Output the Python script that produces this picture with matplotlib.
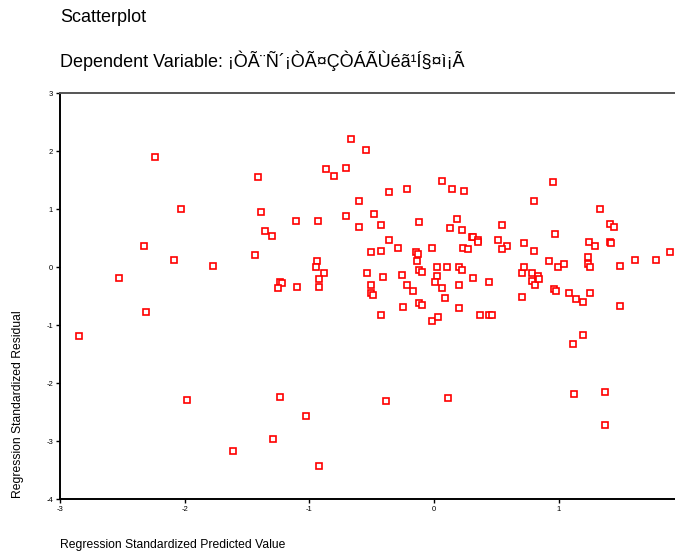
import matplotlib
matplotlib.use("Agg")
import matplotlib.pyplot as plt
import numpy as np

plt.rcParams["font.family"] = ["Liberation Sans", "DejaVu Sans"]
plt.rcParams["axes.unicode_minus"] = False

# standardized predicted value / standardized residual
pred = [
    -2.24, -2.03, -2.33, -2.09, -1.77, -2.53, -2.31, -2.85, -1.98, -1.61,
    -1.41, -1.39, -1.36, -1.30, -1.44, -1.24, -1.03, -1.29, -0.92, -0.39,
    0.11, 1.12, 1.37, 1.37, 1.11, 1.19, 1.49, 0.37, 0.44, 0.46,
    0.70, -0.67, -0.55, -0.87, -0.80, -0.71, -0.36, -0.22, 0.06, 0.14,
    0.24, -0.60, -1.11, -0.93, -0.71, -0.48, -0.60, -0.43, -0.36, -0.12,
    0.18, 0.13, 0.22, -0.29, -0.15, -0.13, -0.51, -0.43, -0.02, 0.23,
    0.27, -0.14, 0.02, 0.10, 0.20, 0.22, -0.12, -0.10, -0.54, -0.26,
    -0.41, 0.02, 0.01, -0.22, -0.17, 0.06, 0.20, 0.09, -0.51, -0.51,
    -0.49, -0.43, -0.94, -0.95, -0.88, -0.92, -0.92, -1.24, -1.22, -1.25,
    -1.10, -0.25, -0.12, -0.10, -0.02, 0.03, 0.20, 0.80, 0.54, 0.30,
    0.31, 0.35, 0.35, 0.51, 0.58, 0.54, 0.72, 0.80, 0.31, 0.44,
    0.70, 0.72, 0.78, 0.78, 0.81, 0.83, 0.84, 0.95, 1.33, 1.41,
    1.44, 0.97, 1.24, 1.29, 1.41, 1.42, 1.89, 1.61, 1.78, 0.92,
    0.99, 1.04, 1.23, 1.23, 1.25, 1.49, 0.96, 0.98, 1.08, 1.14,
    1.19, 1.25,
]
resid = [
    1.90, 1.00, 0.36, 0.12, 0.02, -0.19, -0.78, -1.19, -2.29, -3.17,
    1.55, 0.95, 0.62, 0.53, 0.21, -2.24, -2.57, -2.97, -3.43, -2.31,
    -2.26, -2.19, -2.15, -2.72, -1.33, -1.17, -0.67, -0.83, -0.82, -0.83,
    -0.52, 2.21, 2.02, 1.69, 1.57, 1.71, 1.29, 1.34, 1.48, 1.34,
    1.31, 1.14, 0.79, 0.79, 0.88, 0.91, 0.69, 0.72, 0.47, 0.78,
    0.83, 0.67, 0.64, 0.33, 0.26, 0.22, 0.26, 0.28, 0.33, 0.33,
    0.31, 0.10, 0.00, 0.00, 0.00, -0.05, -0.05, -0.09, -0.10, -0.14,
    -0.17, -0.16, -0.26, -0.31, -0.41, -0.37, -0.31, -0.53, -0.31, -0.45,
    -0.48, -0.83, 0.10, 0.00, -0.10, -0.21, -0.34, -0.26, -0.28, -0.36,
    -0.34, -0.69, -0.62, -0.65, -0.93, -0.86, -0.71, 1.14, 0.72, 0.52,
    0.52, 0.47, 0.43, 0.47, 0.36, 0.31, 0.41, 0.28, -0.19, -0.26,
    -0.10, 0.00, -0.10, -0.24, -0.31, -0.16, -0.21, 1.47, 1.00, 0.74,
    0.69, 0.57, 0.43, 0.36, 0.43, 0.41, 0.26, 0.12, 0.12, 0.10,
    0.00, 0.05, 0.17, 0.05, 0.00, 0.02, -0.38, -0.41, -0.45, -0.55,
    -0.60, -0.45,
]
x_ticks = [-3, -2, -1, 0, 1]
y_ticks = [-4, -3, -2, -1, 0, 1, 2, 3]

W, H = 675, 553
fig = plt.figure(figsize=(W / 100, H / 100), dpi=100)
ax = fig.add_axes([60 / W, 1 - 499 / H, 615 / W, 406 / H])

ax.plot(pred, resid, linestyle="none", marker="s", markersize=4.4,
        markerfacecolor="white", markeredgecolor="#ff0000", markeredgewidth=1.2)

ax.set_xlim(-3, 1.93)
ax.set_ylim(-4, 3)
ax.set_xticks(x_ticks)
ax.set_yticks(y_ticks)
ax.tick_params(axis="both", direction="out", length=3, width=1, labelsize=5.5,
               colors="black", pad=2)

for side in ("left", "bottom"):
    ax.spines[side].set_linewidth(1.4)
    ax.spines[side].set_color("black")
ax.spines["top"].set_linewidth(1.4)
ax.spines["top"].set_color("#555555")
ax.spines["right"].set_visible(False)

fig.text(60 / W, 1 - 17 / H, "Scatterplot", fontsize=13, va="center", ha="left")
fig.text(60 / W, 1 - 61 / H,
         "Dependent Variable: ¡ÒÃ¨Ñ´¡ÒÃ¤ÇÒÁÃÙéã¹Í§¤ì¡Ã",
         fontsize=13, va="center", ha="left")
fig.text(60 / W, 1 - 545 / H, "Regression Standardized Predicted Value",
         fontsize=8.7, va="center", ha="left")
fig.text(18 / W, 1 - 498 / H, "Regression Standardized Residual",
         fontsize=8.7, rotation=90, va="bottom", ha="center")

fig.savefig("out.png", dpi=100)
